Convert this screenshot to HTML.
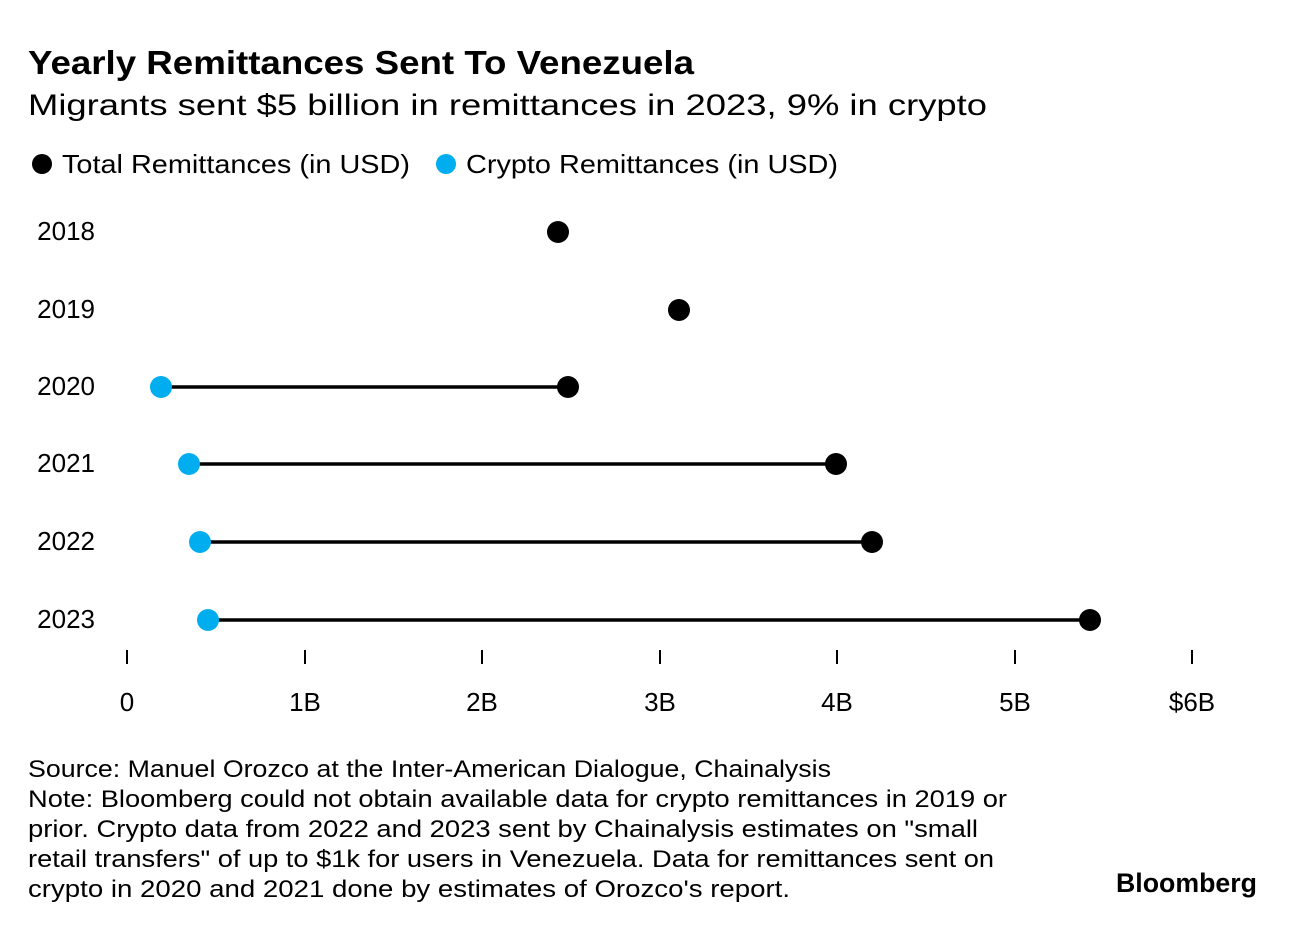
<!DOCTYPE html>
<html><head><meta charset="utf-8"><style>
body{margin:0;background:#fff;width:1296px;height:928px;overflow:hidden;font-family:"Liberation Sans",sans-serif;color:#000}
</style></head><body>
<svg width="1296" height="928" xmlns="http://www.w3.org/2000/svg" font-family="Liberation Sans, sans-serif">
<text x="28" y="74" font-size="33" font-weight="bold" textLength="666" lengthAdjust="spacingAndGlyphs">Yearly Remittances Sent To Venezuela</text>
<text x="28" y="115" font-size="30" textLength="959" lengthAdjust="spacingAndGlyphs">Migrants sent $5 billion in remittances in 2023, 9% in crypto</text>
<circle cx="42" cy="164" r="10" fill="#000"/>
<text x="62" y="173" font-size="26" textLength="348" lengthAdjust="spacingAndGlyphs">Total Remittances (in USD)</text>
<circle cx="446" cy="164" r="10" fill="#00aeef"/>
<text x="466" y="173" font-size="26" textLength="372" lengthAdjust="spacingAndGlyphs">Crypto Remittances (in USD)</text>
<g font-size="26" text-anchor="end">
<text x="95" y="240">2018</text><text x="95" y="318">2019</text><text x="95" y="395">2020</text>
<text x="95" y="472">2021</text><text x="95" y="550">2022</text><text x="95" y="628">2023</text>
</g>
<g stroke="#000" stroke-width="3.5">
<line x1="161" y1="387" x2="568" y2="387"/>
<line x1="189" y1="464" x2="836" y2="464"/>
<line x1="200" y1="542" x2="872" y2="542"/>
<line x1="208" y1="620" x2="1090" y2="620"/>
</g>
<g fill="#000">
<circle cx="558" cy="232" r="11"/><circle cx="679" cy="310" r="11"/><circle cx="568" cy="387" r="11"/>
<circle cx="836" cy="464" r="11"/><circle cx="872" cy="542" r="11"/><circle cx="1090" cy="620" r="11"/>
</g>
<g fill="#00aeef">
<circle cx="161" cy="387" r="11"/><circle cx="189" cy="464" r="11"/><circle cx="200" cy="542" r="11"/><circle cx="208" cy="620" r="11"/>
</g>
<g stroke="#000" stroke-width="2">
<line x1="127" y1="650" x2="127" y2="664"/><line x1="305" y1="650" x2="305" y2="664"/><line x1="482" y1="650" x2="482" y2="664"/>
<line x1="660" y1="650" x2="660" y2="664"/><line x1="837" y1="650" x2="837" y2="664"/><line x1="1015" y1="650" x2="1015" y2="664"/>
<line x1="1192" y1="650" x2="1192" y2="664"/>
</g>
<g font-size="26" text-anchor="middle">
<text x="127" y="711">0</text><text x="305" y="711">1B</text><text x="482" y="711">2B</text><text x="660" y="711">3B</text>
<text x="837" y="711">4B</text><text x="1015" y="711">5B</text><text x="1192" y="711">$6B</text>
</g>
<g font-size="24" lengthAdjust="spacingAndGlyphs">
<text x="28" y="777" textLength="803" lengthAdjust="spacingAndGlyphs">Source: Manuel Orozco at the Inter-American Dialogue, Chainalysis</text>
<text x="28" y="807" textLength="979" lengthAdjust="spacingAndGlyphs">Note: Bloomberg could not obtain available data for crypto remittances in 2019 or</text>
<text x="28" y="837" textLength="950" lengthAdjust="spacingAndGlyphs">prior. Crypto data from 2022 and 2023 sent by Chainalysis estimates on "small</text>
<text x="28" y="867" textLength="966" lengthAdjust="spacingAndGlyphs">retail transfers" of up to $1k for users in Venezuela. Data for remittances sent on</text>
<text x="28" y="897" textLength="762" lengthAdjust="spacingAndGlyphs">crypto in 2020 and 2021 done by estimates of Orozco's report.</text>
</g>
<text x="1116" y="892" font-size="27" font-weight="bold" textLength="141" lengthAdjust="spacingAndGlyphs">Bloomberg</text>
</svg>
</body></html>
